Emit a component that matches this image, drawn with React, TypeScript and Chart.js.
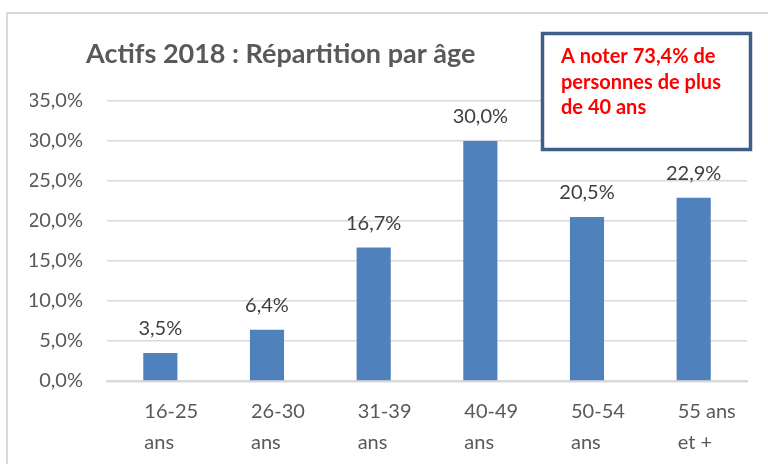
import React, { useEffect, useRef } from "react";
import { Chart, registerables } from "chart.js";

Chart.register(...registerables);

const categories: string[][] = [
  ["16-25", "ans"],
  ["26-30", "ans"],
  ["31-39", "ans"],
  ["40-49", "ans"],
  ["50-54", "ans"],
  ["55 ans", "et +"],
];
const values: number[] = [3.5, 6.4, 16.7, 30.0, 20.5, 22.9];
const yMax = 35;
const yStep = 5;
const titleText = "Actifs 2018 : Répartition par âge";
const noteLines: string[] = ["A noter 73,4% de", "personnes de plus", "de 40 ans"];

const FONT = "Lato, 'Open Sans', sans-serif";
const fmt = (v: number) => v.toFixed(1).replace(".", ",") + "%";

const decorPlugin = {
  id: "decor",
  beforeDraw(chart: any) {
    const ctx = chart.ctx;
    ctx.save();
    ctx.fillStyle = "#ffffff";
    ctx.fillRect(0, 0, chart.width, chart.height);
    // outer frame (left & top visible)
    ctx.strokeStyle = "#d9d9d9";
    ctx.lineWidth = 2;
    ctx.strokeRect(7, 13, chart.width + 20, chart.height + 20);
    ctx.restore();
  },
  afterDraw(chart: any) {
    const ctx = chart.ctx;
    ctx.save();
    // title
    ctx.fillStyle = "#595959";
    ctx.font = `bold 27px ${FONT}`;
    ctx.textAlign = "left";
    ctx.textBaseline = "alphabetic";
    ctx.fillText(titleText, 86, 63);
    // note box
    ctx.fillStyle = "#ffffff";
    ctx.fillRect(542, 34, 208, 115);
    ctx.strokeStyle = "#3f5f8a";
    ctx.lineWidth = 3.5;
    ctx.strokeRect(542.5, 33.5, 208, 116);
    ctx.fillStyle = "#ff0000";
    ctx.font = `bold 20px ${FONT}`;
    noteLines.forEach((l, i) => ctx.fillText(l, 561, 63 + i * 25.5));
    ctx.restore();
  },
  afterDatasetsDraw(chart: any) {
    const ctx = chart.ctx;
    const meta = chart.getDatasetMeta(0);
    ctx.save();
    ctx.fillStyle = "#404040";
    ctx.font = `20px ${FONT}`;
    ctx.textAlign = "center";
    ctx.textBaseline = "middle";
    meta.data.forEach((bar: any, i: number) => {
      ctx.fillText(fmt(values[i]), bar.x, bar.y - 24);
    });
    ctx.restore();
  },
};

export default function App() {
  const ref = useRef<HTMLCanvasElement | null>(null);
  useEffect(() => {
    document.body.style.margin = "0";
    const c = ref.current;
    if (!c) return;
    const chart = new Chart(c, {
      type: "bar",
      data: {
        labels: categories,
        datasets: [
          {
            data: values,
            backgroundColor: "#4f81bd",
            barPercentage: 0.32,
            categoryPercentage: 1,
          },
        ],
      },
      options: {
        responsive: false,
        animation: false,
        layout: { padding: { left: 30, right: 21, top: 101, bottom: 0 } },
        plugins: {
          legend: { display: false },
          title: { display: false },
          tooltip: { enabled: false },
        },
        scales: {
          y: {
            min: 0,
            max: yMax,
            ticks: {
              stepSize: yStep,
              callback: (v: any) => fmt(Number(v)),
              color: "#595959",
              font: { family: FONT, size: 20 },
              padding: 24,
            },
            grid: { color: "#d9d9d9", lineWidth: 1.5, drawTicks: false },
            border: { display: false },
            afterFit: (s: any) => {
              s.width = 77;
            },
          },
          x: {
            ticks: {
              color: "#595959",
              font: { family: FONT, size: 20, lineHeight: 1.55 },
              padding: 7,
              maxRotation: 0,
              autoSkip: false,
              align: "start",
              labelOffset: -16,
            },
            grid: { display: false },
            border: { display: true, color: "#d9d9d9", width: 2.5 },
            afterFit: (s: any) => {
              s.height = 83;
            },
          },
        },
      },
      plugins: [decorPlugin],
    });
    return () => chart.destroy();
  }, []);
  return (
    <div style={{ width: 768, height: 464 }}>
      <canvas ref={ref} width={768} height={464} style={{ display: "block" }} />
    </div>
  );
}
